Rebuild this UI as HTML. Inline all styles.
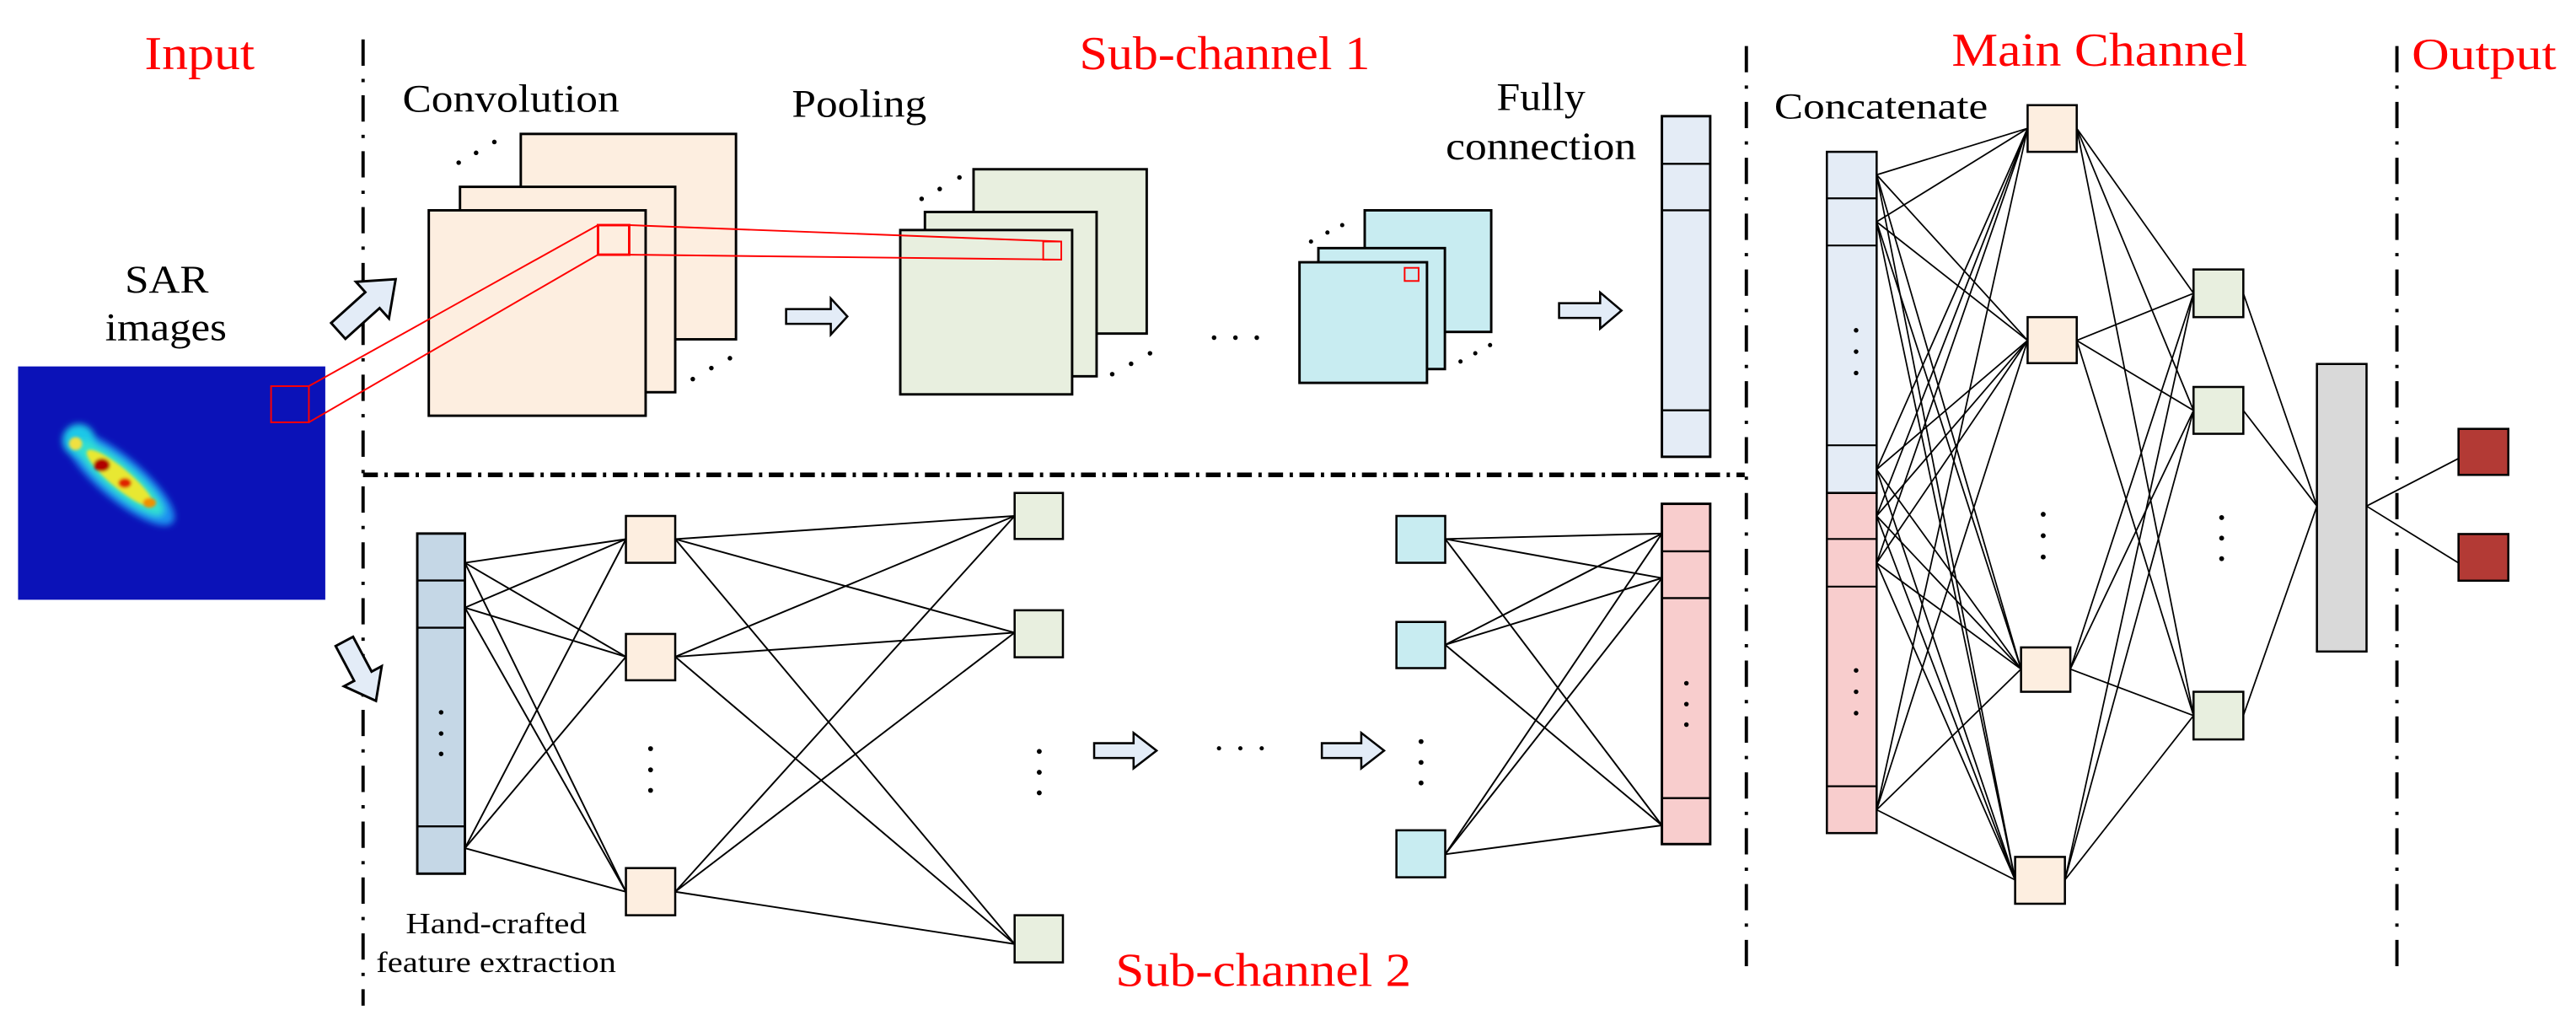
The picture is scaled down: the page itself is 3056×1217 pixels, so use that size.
<!DOCTYPE html>
<html><head><meta charset="utf-8"><style>
html,body{margin:0;padding:0;background:#fff;}
svg{display:block;}
text{font-family:"Liberation Serif","Times New Roman",serif;}
</style></head><body>
<svg width="3056" height="1217" viewBox="0 0 1568 624.4" preserveAspectRatio="none" xmlns="http://www.w3.org/2000/svg">
<defs>
<filter id="bl" x="-50%" y="-50%" width="200%" height="200%"><feGaussianBlur stdDeviation="2"/></filter>
<filter id="bl2" x="-50%" y="-50%" width="200%" height="200%"><feGaussianBlur stdDeviation="1"/></filter>
</defs>
<g stroke="#000" fill="none">
<line x1="221" y1="24" x2="221" y2="612" stroke-width="2" stroke-dasharray="16 8 2 8"/>
<line x1="1063" y1="28" x2="1063" y2="594" stroke-width="2" stroke-dasharray="16 8 2 8"/>
<line x1="1459" y1="28" x2="1459" y2="594" stroke-width="2" stroke-dasharray="16 8 2 8"/>
<line x1="221" y1="289" x2="1062" y2="289" stroke-width="2.8" stroke-dasharray="9 4 2 4"/>
</g>
<g fill="#ff0000" font-family="Liberation Serif, serif">
<text x="88" y="42" font-size="29" textLength="67" lengthAdjust="spacingAndGlyphs">Input</text>
<text x="657" y="42" font-size="29" textLength="177" lengthAdjust="spacingAndGlyphs">Sub-channel 1</text>
<text x="679" y="600" font-size="29" textLength="180" lengthAdjust="spacingAndGlyphs">Sub-channel 2</text>
<text x="1188" y="40" font-size="29" textLength="180" lengthAdjust="spacingAndGlyphs">Main Channel</text>
<text x="1468" y="42" font-size="27" textLength="88" lengthAdjust="spacingAndGlyphs">Output</text>
</g>
<g fill="#000" font-family="Liberation Serif, serif">
<text x="76" y="178" font-size="24" textLength="51" lengthAdjust="spacingAndGlyphs">SAR</text>
<text x="64" y="207" font-size="24" textLength="74" lengthAdjust="spacingAndGlyphs">images</text>
<text x="245" y="68" font-size="24" textLength="132" lengthAdjust="spacingAndGlyphs">Convolution</text>
<text x="482" y="71" font-size="24" textLength="82" lengthAdjust="spacingAndGlyphs">Pooling</text>
<text x="911" y="67" font-size="24" textLength="54" lengthAdjust="spacingAndGlyphs">Fully</text>
<text x="880" y="97" font-size="24" textLength="116" lengthAdjust="spacingAndGlyphs">connection</text>
<text x="247" y="568" font-size="18" textLength="110" lengthAdjust="spacingAndGlyphs">Hand-crafted</text>
<text x="229" y="591.5" font-size="18" textLength="146" lengthAdjust="spacingAndGlyphs">feature extraction</text>
<text x="1080" y="72" font-size="22" textLength="130" lengthAdjust="spacingAndGlyphs">Concatenate</text>
</g>
<!-- SAR image -->
<rect x="11" y="223" width="187" height="142" fill="#0b12b8"/>
<g filter="url(#bl)">
<ellipse cx="73" cy="291" rx="42" ry="13" transform="rotate(40 73 291)" fill="#1e90f0"/>
<ellipse cx="48" cy="268" rx="10" ry="10" fill="#1ec8e8"/>
<ellipse cx="73" cy="291" rx="34" ry="9" transform="rotate(40 73 291)" fill="#30e0d0"/>
</g>
<g filter="url(#bl2)">
<ellipse cx="73" cy="291" rx="26" ry="6" transform="rotate(40 73 291)" fill="#e8e830"/>
<ellipse cx="46" cy="270" rx="4" ry="4" fill="#f0e040"/>
<ellipse cx="62" cy="283" rx="5" ry="4" fill="#b00000"/>
<ellipse cx="76" cy="294" rx="4" ry="3" fill="#e02000"/>
<ellipse cx="91" cy="306" rx="4" ry="3" fill="#f09000"/>
</g>
<rect x="165" y="235" width="23" height="22" fill="none" stroke="#ff0000" stroke-width="1"/>
<g fill="#e3ecf7" stroke="#000" stroke-width="1.5">
<path d="M-23,-6.5 L5,-6.5 L5,-15 L24,0 L5,15 L5,6.5 L-23,6.5Z" transform="translate(223 186) rotate(-42)"/>
<path d="M-20,-6 L4,-6 L4,-13 L21,0 L4,13 L4,6 L-20,6Z" transform="translate(219 408) rotate(62)"/>
</g>
<g stroke="#000" stroke-width="1.5" fill="#fdeee0">
<rect x="317" y="81.5" width="131" height="125"/>
<rect x="280" y="113.7" width="131" height="125"/>
<rect x="261" y="128" width="132" height="125"/>
</g>
<g stroke="#000" stroke-width="1.5" fill="#e8efdf">
<rect x="592.6" y="103" width="105.4" height="100"/>
<rect x="563" y="129" width="104.5" height="100"/>
<rect x="548" y="140" width="104.6" height="100"/>
</g>
<g stroke="#000" stroke-width="1.5" fill="#c8ecf1">
<rect x="830.7" y="128" width="77" height="74"/>
<rect x="802.5" y="151" width="77" height="73.6"/>
<rect x="791" y="159.6" width="77.6" height="73.4"/>
</g>
<g stroke="#ff0000" fill="none" stroke-width="1">
<rect x="364" y="137" width="19" height="18" stroke-width="1.5"/>
<rect x="635" y="147" width="11" height="11"/>
<rect x="855" y="163" width="8.5" height="8"/>
<line x1="188" y1="235" x2="364" y2="137"/>
<line x1="188" y1="257" x2="364" y2="155"/>
<line x1="383" y1="137" x2="646" y2="147"/>
<line x1="383" y1="155" x2="646" y2="158"/>
</g>
<g fill="#000">
<circle cx="279.2" cy="99" r="1.4"/><circle cx="289.8" cy="93" r="1.4"/><circle cx="300.9" cy="86.4" r="1.4"/>
<circle cx="421.7" cy="230.7" r="1.4"/><circle cx="433" cy="224" r="1.4"/><circle cx="444.3" cy="218" r="1.4"/>
<circle cx="561" cy="121" r="1.4"/><circle cx="572" cy="115" r="1.4"/><circle cx="584" cy="108" r="1.4"/>
<circle cx="677" cy="227.7" r="1.4"/><circle cx="688.5" cy="221.4" r="1.4"/><circle cx="700" cy="215" r="1.4"/>
<circle cx="798" cy="147" r="1.3"/><circle cx="808" cy="141.5" r="1.3"/><circle cx="817" cy="137" r="1.3"/>
<circle cx="889" cy="220" r="1.3"/><circle cx="898" cy="215" r="1.3"/><circle cx="907" cy="210" r="1.3"/>
<circle cx="739" cy="205.5" r="1.4"/><circle cx="752" cy="205.5" r="1.4"/><circle cx="765" cy="205.5" r="1.4"/>
<circle cx="1026.5" cy="180" r="1.4"/><circle cx="1026.5" cy="192" r="1.4"/><circle cx="1026.5" cy="205" r="1.4"/>
</g>
<g fill="#e3ecf7" stroke="#000" stroke-width="1.3">
<path d="M478.5,188.1 L505.7,188.1 L505.7,181.6 L515.8,192.6 L505.7,203.6 L505.7,197.1 L478.5,197.1Z"/>
<path d="M949,184.5 L974,184.5 L974,178 L987,189 L974,200 L974,193.5 L949,193.5Z"/>
<path d="M666,452.3 L690,452.3 L690,446 L704,456.8 L690,467.6 L690,461.3 L666,461.3Z"/>
<path d="M804.6,452.3 L828.6,452.3 L828.6,446 L842.5,456.8 L828.6,467.6 L828.6,461.3 L804.6,461.3Z"/>
</g>
<rect x="1011.6" y="70.7" width="29.4" height="207.3" fill="#e4ecf6" stroke="#000" stroke-width="1.5"/>
<g stroke="#000" stroke-width="1.2"><line x1="1011.6" y1="99.7" x2="1041" y2="99.7"/><line x1="1011.6" y1="128" x2="1041" y2="128"/><line x1="1011.6" y1="249.7" x2="1041" y2="249.7"/></g>

<g stroke="#000" stroke-width="1">
<line x1="283" y1="342.5" x2="381" y2="328.1"/><line x1="283" y1="342.5" x2="381" y2="399.7"/><line x1="283" y1="342.5" x2="381" y2="542.7"/>
<line x1="283" y1="369.8" x2="381" y2="328.1"/><line x1="283" y1="369.8" x2="381" y2="399.7"/><line x1="283" y1="369.8" x2="381" y2="542.7"/>
<line x1="283" y1="516.2" x2="381" y2="328.1"/><line x1="283" y1="516.2" x2="381" y2="399.7"/><line x1="283" y1="516.2" x2="381" y2="542.7"/>
<line x1="411" y1="328.1" x2="617.6" y2="314"/><line x1="411" y1="328.1" x2="617.6" y2="385"/><line x1="411" y1="328.1" x2="617.6" y2="574.5"/>
<line x1="411" y1="399.7" x2="617.6" y2="314"/><line x1="411" y1="399.7" x2="617.6" y2="385"/><line x1="411" y1="399.7" x2="617.6" y2="574.5"/>
<line x1="411" y1="542.7" x2="617.6" y2="314"/><line x1="411" y1="542.7" x2="617.6" y2="385"/><line x1="411" y1="542.7" x2="617.6" y2="574.5"/>
<line x1="879.7" y1="328" x2="1011.6" y2="324.7"/><line x1="879.7" y1="328" x2="1011.6" y2="351.8"/><line x1="879.7" y1="328" x2="1011.6" y2="502.3"/>
<line x1="879.7" y1="392.4" x2="1011.6" y2="324.7"/><line x1="879.7" y1="392.4" x2="1011.6" y2="351.8"/><line x1="879.7" y1="392.4" x2="1011.6" y2="502.3"/>
<line x1="879.7" y1="519.9" x2="1011.6" y2="324.7"/><line x1="879.7" y1="519.9" x2="1011.6" y2="351.8"/><line x1="879.7" y1="519.9" x2="1011.6" y2="502.3"/>
</g>
<rect x="254" y="324.7" width="29" height="207" fill="#c5d7e6" stroke="#000" stroke-width="1.5"/>
<g stroke="#000" stroke-width="1.2"><line x1="254" y1="353.3" x2="283" y2="353.3"/><line x1="254" y1="382" x2="283" y2="382"/><line x1="254" y1="502.9" x2="283" y2="502.9"/></g>
<g stroke="#000" stroke-width="1.3">
<rect x="381" y="314" width="30" height="28.5" fill="#fdeee0"/>
<rect x="381" y="385.8" width="30" height="28.2" fill="#fdeee0"/>
<rect x="381" y="528.3" width="30" height="28.7" fill="#fdeee0"/>
<rect x="617.6" y="300" width="29.4" height="28" fill="#e8efdf"/>
<rect x="617.6" y="371.4" width="29.4" height="28.6" fill="#e8efdf"/>
<rect x="617.6" y="557" width="29.4" height="28.7" fill="#e8efdf"/>
<rect x="850" y="314" width="29.7" height="28.5" fill="#c8ecf1"/>
<rect x="850" y="378.5" width="29.7" height="28.1" fill="#c8ecf1"/>
<rect x="850" y="505.3" width="29.7" height="28.6" fill="#c8ecf1"/>
</g>
<rect x="1011.6" y="306.6" width="29.4" height="207.1" fill="#f8cdcd" stroke="#000" stroke-width="1.5"/>
<g stroke="#000" stroke-width="1.2"><line x1="1011.6" y1="335.5" x2="1041" y2="335.5"/><line x1="1011.6" y1="364" x2="1041" y2="364"/><line x1="1011.6" y1="485.7" x2="1041" y2="485.7"/></g>
<g fill="#000">
<circle cx="268.5" cy="433.5" r="1.4"/><circle cx="268.5" cy="446.4" r="1.4"/><circle cx="268.5" cy="458.8" r="1.4"/>
<circle cx="396" cy="455.6" r="1.5"/><circle cx="396" cy="468.5" r="1.5"/><circle cx="396" cy="481" r="1.5"/>
<circle cx="632.6" cy="457.3" r="1.5"/><circle cx="632.6" cy="470" r="1.5"/><circle cx="632.6" cy="482.5" r="1.5"/>
<circle cx="742" cy="455.4" r="1.3"/><circle cx="755" cy="455.4" r="1.3"/><circle cx="768" cy="455.4" r="1.3"/>
<circle cx="865" cy="451.3" r="1.5"/><circle cx="865" cy="464" r="1.5"/><circle cx="865" cy="476.5" r="1.5"/>
<circle cx="1026.5" cy="415.8" r="1.4"/><circle cx="1026.5" cy="428.5" r="1.4"/><circle cx="1026.5" cy="441" r="1.4"/>
</g>

<g stroke="#000" stroke-width="0.9">
<line x1="1142.3" y1="106.4" x2="1234.2" y2="78.1"/><line x1="1142.3" y1="106.4" x2="1234.2" y2="207.2"/><line x1="1142.3" y1="106.4" x2="1230.2" y2="407.2"/><line x1="1142.3" y1="106.4" x2="1226.6" y2="535.5"/>
<line x1="1142.3" y1="135" x2="1234.2" y2="78.1"/><line x1="1142.3" y1="135" x2="1234.2" y2="207.2"/><line x1="1142.3" y1="135" x2="1230.2" y2="407.2"/><line x1="1142.3" y1="135" x2="1226.6" y2="535.5"/>
<line x1="1142.3" y1="285.7" x2="1234.2" y2="78.1"/><line x1="1142.3" y1="285.7" x2="1234.2" y2="207.2"/><line x1="1142.3" y1="285.7" x2="1230.2" y2="407.2"/><line x1="1142.3" y1="285.7" x2="1226.6" y2="535.5"/>
<line x1="1142.3" y1="314" x2="1234.2" y2="78.1"/><line x1="1142.3" y1="314" x2="1234.2" y2="207.2"/><line x1="1142.3" y1="314" x2="1230.2" y2="407.2"/><line x1="1142.3" y1="314" x2="1226.6" y2="535.5"/>
<line x1="1142.3" y1="342.6" x2="1234.2" y2="78.1"/><line x1="1142.3" y1="342.6" x2="1234.2" y2="207.2"/><line x1="1142.3" y1="342.6" x2="1230.2" y2="407.2"/><line x1="1142.3" y1="342.6" x2="1226.6" y2="535.5"/>
<line x1="1142.3" y1="492.8" x2="1234.2" y2="78.1"/><line x1="1142.3" y1="492.8" x2="1234.2" y2="207.2"/><line x1="1142.3" y1="492.8" x2="1230.2" y2="407.2"/><line x1="1142.3" y1="492.8" x2="1226.6" y2="535.5"/>
<line x1="1264.1" y1="78.1" x2="1335.2" y2="178.5"/><line x1="1264.1" y1="78.1" x2="1335.2" y2="249.8"/><line x1="1264.1" y1="78.1" x2="1335.2" y2="435.5"/>
<line x1="1264.1" y1="207.2" x2="1335.2" y2="178.5"/><line x1="1264.1" y1="207.2" x2="1335.2" y2="249.8"/><line x1="1264.1" y1="207.2" x2="1335.2" y2="435.5"/>
<line x1="1260.2" y1="407.2" x2="1335.2" y2="178.5"/><line x1="1260.2" y1="407.2" x2="1335.2" y2="249.8"/><line x1="1260.2" y1="407.2" x2="1335.2" y2="435.5"/>
<line x1="1256.9" y1="535.5" x2="1335.2" y2="178.5"/><line x1="1256.9" y1="535.5" x2="1335.2" y2="249.8"/><line x1="1256.9" y1="535.5" x2="1335.2" y2="435.5"/>
<line x1="1365.5" y1="178.5" x2="1410.3" y2="308"/><line x1="1365.5" y1="249.8" x2="1410.3" y2="308"/><line x1="1365.5" y1="435.5" x2="1410.3" y2="308"/>
<line x1="1440.5" y1="308" x2="1496.5" y2="279"/><line x1="1440.5" y1="308" x2="1496.5" y2="342.6"/>
</g>
<rect x="1112" y="92.4" width="30.3" height="207.6" fill="#e4ecf6" stroke="#000" stroke-width="1.3"/>
<rect x="1112" y="300" width="30.3" height="207" fill="#f8cdcd" stroke="#000" stroke-width="1.3"/>
<g stroke="#000" stroke-width="1.1">
<line x1="1112" y1="120.7" x2="1142.3" y2="120.7"/><line x1="1112" y1="149.4" x2="1142.3" y2="149.4"/><line x1="1112" y1="271" x2="1142.3" y2="271"/>
<line x1="1112" y1="328" x2="1142.3" y2="328"/><line x1="1112" y1="357" x2="1142.3" y2="357"/><line x1="1112" y1="478.5" x2="1142.3" y2="478.5"/>
</g>
<g stroke="#000" stroke-width="1.3">
<rect x="1234.2" y="64" width="29.9" height="28.4" fill="#fdeee0"/>
<rect x="1234.2" y="193" width="29.9" height="28" fill="#fdeee0"/>
<rect x="1230.2" y="394" width="30" height="27" fill="#fdeee0"/>
<rect x="1226.6" y="521.5" width="30.3" height="28.5" fill="#fdeee0"/>
<rect x="1335.2" y="164" width="30.3" height="29" fill="#e8efdf"/>
<rect x="1335.2" y="235.5" width="30.3" height="28.5" fill="#e8efdf"/>
<rect x="1335.2" y="421" width="30.3" height="29" fill="#e8efdf"/>
<rect x="1410.3" y="221.5" width="30.2" height="175" fill="#d9d9d9"/>
<rect x="1496.5" y="261" width="30.3" height="28" fill="#b33a35"/>
<rect x="1496.5" y="325" width="30.3" height="28.4" fill="#b33a35"/>
</g>
<g fill="#000">
<circle cx="1129.8" cy="201" r="1.4"/><circle cx="1129.8" cy="214" r="1.4"/><circle cx="1129.8" cy="227" r="1.4"/>
<circle cx="1129.8" cy="408" r="1.4"/><circle cx="1129.8" cy="421" r="1.4"/><circle cx="1129.8" cy="434" r="1.4"/>
<circle cx="1243.7" cy="313" r="1.5"/><circle cx="1243.7" cy="326" r="1.5"/><circle cx="1243.7" cy="339" r="1.5"/>
<circle cx="1352.3" cy="315" r="1.5"/><circle cx="1352.3" cy="327.5" r="1.5"/><circle cx="1352.3" cy="340" r="1.5"/>
</g>
</svg>
</body></html>
